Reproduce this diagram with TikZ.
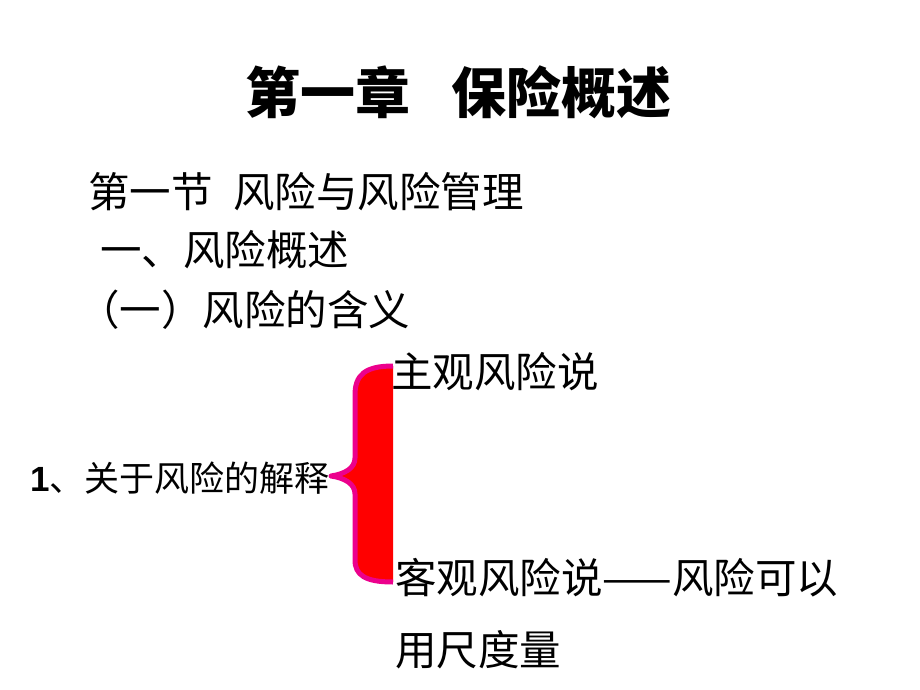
\documentclass[tikz,border=0pt]{standalone}
\usepackage{fontspec}
\setmainfont{Noto Sans CJK SC}
\newfontfamily\latinbold{Liberation Sans}
\usepackage{tikz}
\usetikzlibrary{positioning}
\tikzstyle{line} = [anchor=west, inner sep=0pt, font=\fontsize{41.5}{48}\selectfont]
\tikzstyle{brace} = [line width=5pt, draw=magenta, line join=round]

\begin{document}
\begin{tikzpicture}[x=1pt, y=-1pt]
			\useasboundingbox (0,0) rectangle (920,690);
			\node[anchor=west, inner sep=0pt, font=\fontsize{55}{64}\selectfont\bfseries] (title) at (245,92) {第一章\hspace{0.75em}保险概述};
			\node[line] (section) at (88,192) {第一节\hspace{0.5em}风险与风险管理};
			\node[line] (overview) at (100,250) {一、风险概述};
			\node[line] (meaning) at (78,310) {（一）风险的含义};
			\node[anchor=west, inner sep=0pt, font=\fontsize{35}{40}\selectfont] (explain) at (30,478) {{\latinbold\bfseries 1}、关于风险的解释};
			\node[line] (subjective) at (391,372) {主观风险说};
			\node[line] (objective) at (395,578) {客观风险说——风险可以};
			\node[line] (measure) at (395,650) {用尺度量};
			% brace
			\fill[red] (393,366) .. controls (365,366) and (355,375) .. (355,395)
				-- (355,458) .. controls (355,468) and (345,474) .. (331,476)
				.. controls (345,478) and (355,484) .. (355,494)
				-- (355,560) .. controls (355,575) and (365,582) .. (393,582) -- cycle;
			\draw[brace] (393,366) .. controls (365,366) and (355,375) .. (355,395)
				-- (355,458) .. controls (355,468) and (345,474) .. (331,476)
				.. controls (345,478) and (355,484) .. (355,494)
				-- (355,560) .. controls (355,575) and (365,582) .. (393,582);
		\end{tikzpicture}
\end{document}
